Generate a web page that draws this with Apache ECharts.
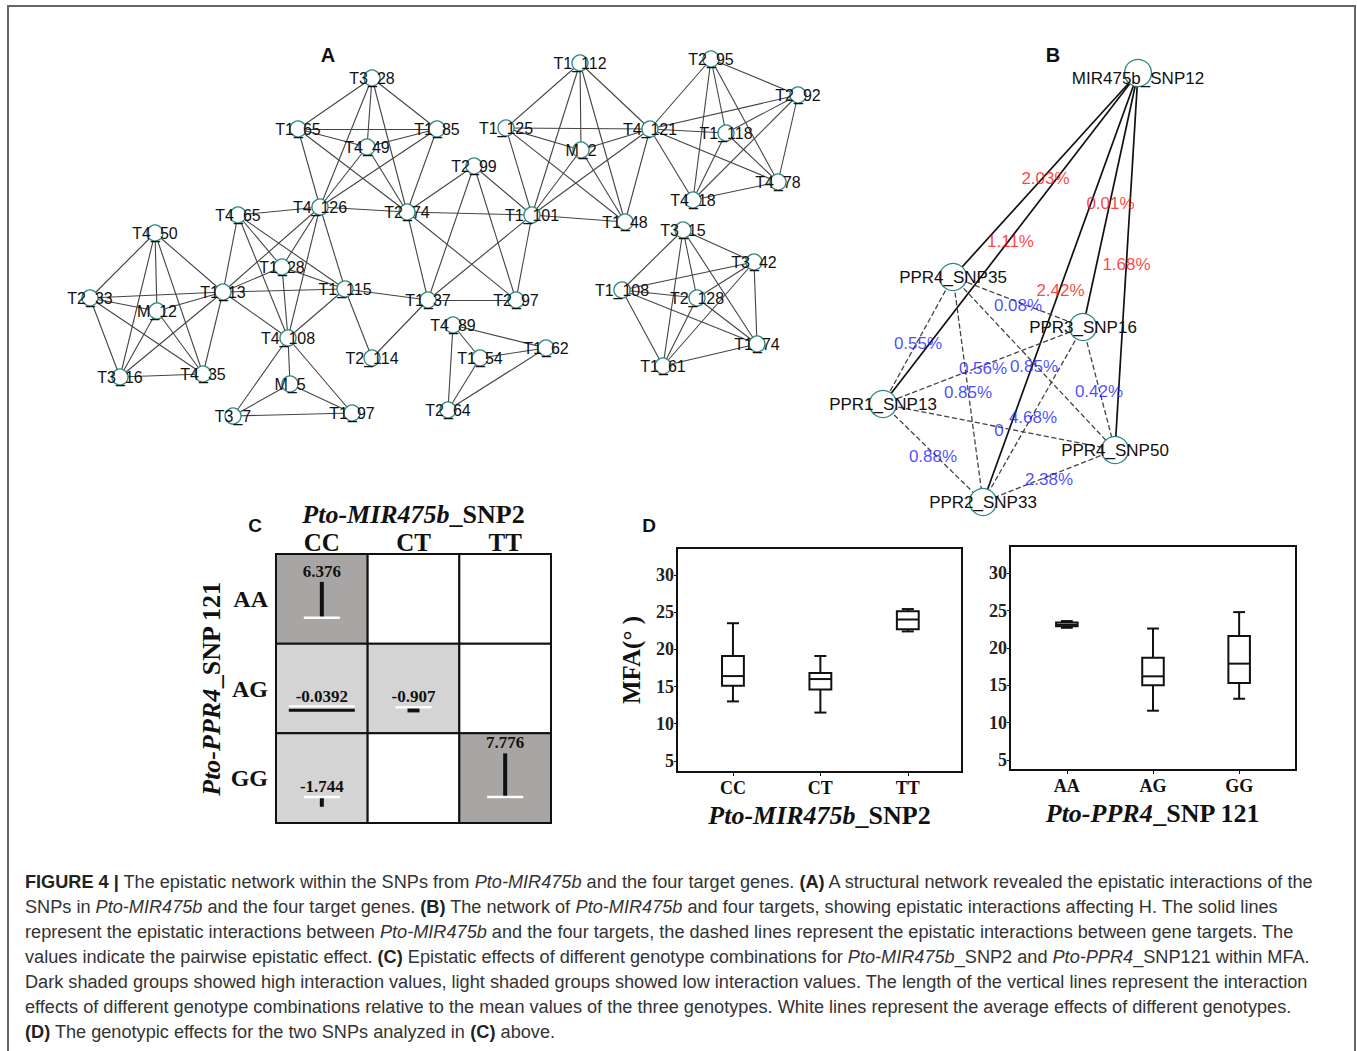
<!DOCTYPE html>
<html>
<head>
<meta charset="utf-8">
<script src="https://cdn.jsdelivr.net/npm/echarts@6/dist/echarts.min.js"></script>
<style>
html, body { margin: 0; padding: 0; background: #fff; }
#container { width: 1357px; height: 1051px; }
</style>
</head>
<body>
<div id="container"></div>
<script>
// ---- panel A: structural epistatic network (node positions)
var netA_nodes = [
    ['T3_28', 372, 78], ['T1_65', 298, 129], ['T1_85', 437, 129], ['T4_49', 367, 147],
    ['T4_126', 320, 207], ['T2_74', 407, 212], ['T4_65', 238, 215], ['T4_50', 155, 233],
    ['T1_28', 282, 267], ['T1_13', 223, 292], ['T1_115', 345, 289], ['T2_33', 90, 298],
    ['M_12', 157, 311], ['T4_108', 288, 338], ['T2_114', 372, 358], ['T3_16', 120, 377],
    ['T4_35', 203, 374], ['M_5', 290, 384], ['T3_7', 233, 416], ['T1_97', 352, 413],
    ['T1_112', 580, 63], ['T2_95', 711, 59], ['T2_92', 798, 95], ['T1_125', 506, 128],
    ['T4_121', 650, 129], ['T1_118', 726, 133], ['M_2', 581, 150], ['T2_99', 474, 166],
    ['T4_78', 778, 182], ['T4_18', 693, 200], ['T1_101', 532, 215], ['T1_48', 625, 222],
    ['T3_15', 683, 230], ['T3_42', 754, 262], ['T1_108', 622, 290], ['T2_128', 697, 298],
    ['T1_37', 428, 300], ['T2_97', 516, 300], ['T4_89', 453, 325], ['T1_62', 546, 348],
    ['T1_54', 480, 358], ['T1_74', 757, 344], ['T1_61', 663, 366], ['T2_64', 448, 410]
];
// every group below is fully connected in the figure
var netA_groups = [
    ['T3_28', 'T1_65', 'T1_85', 'T4_49', 'T4_126', 'T2_74'],
    ['T4_50', 'T2_33', 'M_12', 'T1_13', 'T3_16', 'T4_35'],
    ['T4_65', 'T4_126', 'T1_13', 'T1_28', 'T1_115', 'T4_108'],
    ['T2_74', 'T2_99', 'T1_37', 'T2_97', 'T1_101'],
    ['T1_112', 'T1_125', 'M_2', 'T4_121', 'T1_101', 'T1_48'],
    ['T4_121', 'T2_95', 'T2_92', 'T1_118', 'T4_78', 'T4_18'],
    ['T3_15', 'T3_42', 'T1_108', 'T2_128', 'T1_74', 'T1_61'],
    ['T4_89', 'T1_62', 'T1_54', 'T2_64'],
    ['T4_108', 'M_5', 'T3_7', 'T1_97'],
    ['T1_115', 'T1_37', 'T2_114']
];

// ---- panel B: MIR475b and four targets
var netB_nodes = [
    ['MIR475b_SNP12', 1138, 73], ['PPR4_SNP35', 953, 277], ['PPR3_SNP16', 1083, 327],
    ['PPR1_SNP13', 883, 404], ['PPR4_SNP50', 1115, 450], ['PPR2_SNP33', 983, 502]
];
var netB_solid = [
    ['MIR475b_SNP12', 'PPR4_SNP35', '2.03%'],
    ['MIR475b_SNP12', 'PPR1_SNP13', '1.11%'],
    ['MIR475b_SNP12', 'PPR3_SNP16', '0.01%'],
    ['MIR475b_SNP12', 'PPR4_SNP50', '1.68%'],
    ['MIR475b_SNP12', 'PPR2_SNP33', '2.42%']
];
var netB_dashed = [
    ['PPR4_SNP35', 'PPR1_SNP13', '0.55%'],
    ['PPR4_SNP35', 'PPR3_SNP16', '0.08%'],
    ['PPR4_SNP35', 'PPR4_SNP50', '0.85%'],
    ['PPR4_SNP35', 'PPR2_SNP33', '0.85%'],
    ['PPR1_SNP13', 'PPR3_SNP16', '0.56%'],
    ['PPR3_SNP16', 'PPR4_SNP50', '0.42%'],
    ['PPR3_SNP16', 'PPR2_SNP33', '4.68%'],
    ['PPR1_SNP13', 'PPR4_SNP50', '0'],
    ['PPR1_SNP13', 'PPR2_SNP33', '0.88%'],
    ['PPR4_SNP50', 'PPR2_SNP33', '2.38%']
];

// ---- panel C: genotype combinations
var cCols = ['CC', 'CT', 'TT'];
var cRows = ['AA', 'AG', 'GG'];
var cShade = [['CC', 'AA', 'high'], ['CC', 'AG', 'low'], ['CT', 'AG', 'low'], ['CC', 'GG', 'low'], ['TT', 'GG', 'high']];
var cEffect = [['CC', 'AA', 6.376], ['CC', 'AG', -0.0392], ['CT', 'AG', -0.907], ['CC', 'GG', -1.744], ['TT', 'GG', 7.776]];

// ---- panel D: MFA boxplots [min, q1, median, q3, max]
var snp2Groups = ['CC', 'CT', 'TT'];
var snp2Box = [[13.0, 15.1, 16.4, 19.1, 23.5], [11.5, 14.6, 16.0, 16.8, 19.1], [22.4, 22.7, 24.0, 25.1, 25.4]];
var snp121Groups = ['AA', 'AG', 'GG'];
var snp121Box = [[22.7, 22.9, 23.1, 23.4, 23.6], [11.6, 15.0, 16.2, 18.7, 22.6], [13.2, 15.3, 17.9, 21.6, 24.8]];
var mfaTicks = [5, 10, 15, 20, 25, 30];

// ---- caption
var captionLines = [
    '{b|FIGURE 4 |} The epistatic network within the SNPs from {i|Pto-MIR475b} and the four target genes. {b|(A)} A structural network revealed the epistatic interactions of the',
    'SNPs in {i|Pto-MIR475b} and the four target genes. {b|(B)} The network of {i|Pto-MIR475b} and four targets, showing epistatic interactions affecting H. The solid lines',
    'represent the epistatic interactions between {i|Pto-MIR475b} and the four targets, the dashed lines represent the epistatic interactions between gene targets. The',
    'values indicate the pairwise epistatic effect. {b|(C)} Epistatic effects of different genotype combinations for {i|Pto-MIR475b}_SNP2 and {i|Pto-PPR4}_SNP121 within MFA.',
    'Dark shaded groups showed high interaction values, light shaded groups showed low interaction values. The length of the vertical lines represent the interaction',
    'effects of different genotype combinations relative to the mean values of the three genotypes. White lines represent the average effects of different genotypes.',
    '{b|(D)} The genotypic effects for the two SNPs analyzed in {b|(C)} above.'
];

var serif = 'Liberation Serif';
var sans = 'Liberation Sans';
var red = '#ff1010';
var blue = '#1c1cff';
var capSize = 18.15;

let chart = echarts.init(document.getElementById('container'), null, {renderer: 'svg'});

function nameRich(size) {
    return {
        i: {fontFamily: serif, fontStyle: 'italic', fontWeight: 'bold', fontSize: size, color: '#111'},
        n: {fontFamily: serif, fontWeight: 'bold', fontSize: size, color: '#111'}
    };
}

let linksA = [];
netA_groups.forEach(g => {
    for (let i = 0; i < g.length; i++) {
        for (let j = i + 1; j < g.length; j++) {
            linksA.push({source: g[i], target: g[j]});
        }
    }
});

let posB = {};
netB_nodes.forEach(n => { posB[n[0]] = [n[1], n[2]]; });
let linksB = [];
let edgeLabelsB = [];
netB_solid.forEach(l => {
    linksB.push({source: l[0], target: l[1], lineStyle: {color: '#111', width: 1.7, type: 'solid'}});
    edgeLabelsB.push({name: l[2], value: [(posB[l[0]][0] + posB[l[1]][0]) / 2, (posB[l[0]][1] + posB[l[1]][1]) / 2], label: {color: red}});
});
netB_dashed.forEach(l => {
    linksB.push({source: l[0], target: l[1], lineStyle: {color: '#444', width: 1.3, type: 'dashed'}});
    edgeLabelsB.push({name: l[2], value: [(posB[l[0]][0] + posB[l[1]][0]) / 2, (posB[l[0]][1] + posB[l[1]][1]) / 2], label: {color: blue}});
});

let cellData = [];
cRows.forEach((r, ri) => {
    cCols.forEach((c, ci) => {
        let shade = 'none';
        cShade.forEach(s => { if (s[0] == c && s[1] == r) shade = s[2]; });
        cellData.push({value: [ci, ri], shade: shade});
    });
});
let shadeColor = {high: '#a8a6a4', low: '#d4d4d4', none: '#ffffff'};

function boxData(box) {
    return box.map((b, i) => [i + 1].concat(b));
}

function renderBox(params, api) {
    let x = api.value(0);
    let p = [1, 2, 3, 4, 5].map(i => api.coord([x, api.value(i)]));
    let bw = api.size([0.25, 0])[0];
    let cw = bw * 0.55;
    let cx = p[0][0];
    let st = {stroke: '#111', lineWidth: 2, fill: 'none'};
    return {
        type: 'group',
        children: [
            {type: 'line', shape: {x1: cx, y1: p[0][1], x2: cx, y2: p[1][1]}, style: st},
            {type: 'line', shape: {x1: cx, y1: p[3][1], x2: cx, y2: p[4][1]}, style: st},
            {type: 'line', shape: {x1: cx - cw / 2, y1: p[0][1], x2: cx + cw / 2, y2: p[0][1]}, style: st},
            {type: 'line', shape: {x1: cx - cw / 2, y1: p[4][1], x2: cx + cw / 2, y2: p[4][1]}, style: st},
            {type: 'rect', shape: {x: cx - bw / 2, y: p[3][1], width: bw, height: p[1][1] - p[3][1]}, style: {stroke: '#111', lineWidth: 2, fill: '#fff'}},
            {type: 'line', shape: {x1: cx - bw / 2, y1: p[2][1], x2: cx + bw / 2, y2: p[2][1]}, style: st}
        ]
    };
}

function boxXAxis(grid, groups, min, max, name) {
    return {
        gridIndex: grid, type: 'value', min: min, max: max,
        splitLine: {show: false},
        axisLine: {show: false},
        axisTick: {show: true, customValues: [1, 2, 3], length: 4, lineStyle: {color: '#111'}},
        axisLabel: {
            customValues: [1, 2, 3],
            formatter: v => (Math.abs(v - Math.round(v)) < 1e-6 ? (groups[Math.round(v) - 1] || '') : ''),
            fontFamily: serif, fontWeight: 'bold', fontSize: 18, color: '#111', margin: 7
        },
        name: name, nameLocation: 'middle', nameGap: 30,
        nameTextStyle: {rich: nameRich(26)}
    };
}

function boxYAxis(grid, min, max) {
    return {
        gridIndex: grid, type: 'value', min: min, max: max, splitNumber: 6,
        splitLine: {show: false},
        axisLine: {show: false},
        axisTick: {show: true, customValues: mfaTicks, length: 3, lineStyle: {color: '#111'}},
        axisLabel: {
            customValues: mfaTicks,
            formatter: v => (v % 5 === 0 ? String(v) : ''),
            fontFamily: serif, fontWeight: 'bold', fontSize: 18, color: '#222', margin: 3
        }
    };
}

let graphic = [
    {type: 'rect', shape: {x: 8, y: 6, width: 1347, height: 1070}, style: {fill: 'none', stroke: '#666', lineWidth: 2}, silent: true},
    {type: 'text', x: 328, y: 55, style: {text: 'A', font: 'bold 20px "Liberation Sans"', fill: '#111', align: 'center', verticalAlign: 'middle'}},
    {type: 'text', x: 1053, y: 55, style: {text: 'B', font: 'bold 20px "Liberation Sans"', fill: '#111', align: 'center', verticalAlign: 'middle'}},
    {type: 'text', x: 255, y: 525, style: {text: 'C', font: 'bold 19px "Liberation Sans"', fill: '#111', align: 'center', verticalAlign: 'middle'}},
    {type: 'text', x: 649, y: 525, style: {text: 'D', font: 'bold 19px "Liberation Sans"', fill: '#111', align: 'center', verticalAlign: 'middle'}}
];
captionLines.forEach((line, i) => {
    graphic.push({
        type: 'text', x: 25, y: 882 + 25 * i,
        style: {
            text: line,
            fontFamily: sans, fontSize: capSize, fill: '#333',
            verticalAlign: 'middle',
            rich: {
                b: {fontFamily: sans, fontSize: capSize, fontWeight: 'bold', fill: '#222'},
                i: {fontFamily: sans, fontSize: capSize, fontStyle: 'italic', fill: '#333'}
            }
        }
    });
});

var option = {
    animation: false,
    backgroundColor: '#fff',
    grid: [
        {left: 0, top: 0, width: 1357, height: 1051},
        {left: 276, top: 554, width: 275, height: 269},
        {left: 677, top: 548, width: 285, height: 224, show: true, borderColor: '#111', borderWidth: 2},
        {left: 1010, top: 546, width: 286, height: 224, show: true, borderColor: '#111', borderWidth: 2}
    ],
    xAxis: [
        {gridIndex: 0, type: 'value', min: 0, max: 1357, show: false},
        {
            gridIndex: 1, type: 'category', position: 'top', data: cCols,
            axisLine: {show: false}, axisTick: {show: false},
            axisLabel: {fontFamily: serif, fontWeight: 'bold', fontSize: 25, color: '#111', margin: -1},
            name: '{i|Pto-MIR475b}{n|_SNP2}', nameLocation: 'middle', nameGap: 27,
            nameTextStyle: {rich: nameRich(26)}
        },
        boxXAxis(2, snp2Groups, 0.36, 3.62, '{i|Pto-MIR475b}{n|_SNP2}'),
        boxXAxis(3, snp121Groups, 0.34, 3.66, '{i|Pto-PPR4}{n|_SNP 121}')
    ],
    yAxis: [
        {gridIndex: 0, type: 'value', min: 0, max: 1051, inverse: true, show: false},
        {
            gridIndex: 1, type: 'category', inverse: true, data: cRows,
            axisLine: {show: false}, axisTick: {show: false},
            axisLabel: {fontFamily: serif, fontWeight: 'bold', fontSize: 24, color: '#111', margin: 8, padding: [12, 0, 0, 0]},
            name: '{i|Pto-PPR4}{n|_SNP 121}', nameLocation: 'middle', nameGap: 52, nameRotate: 90,
            nameTextStyle: {rich: nameRich(26)}
        },
        Object.assign(boxYAxis(2, 3.52, 33.6), {
            name: 'MFA(° )', nameLocation: 'middle', nameGap: 33, nameRotate: 90,
            nameTextStyle: {fontFamily: serif, fontWeight: 'bold', fontSize: 25, color: '#111'}
        }),
        boxYAxis(3, 3.66, 33.65)
    ],
    graphic: graphic,
    series: [
        {
            type: 'graph', coordinateSystem: 'cartesian2d', xAxisIndex: 0, yAxisIndex: 0,
            silent: true, symbol: 'circle', symbolSize: 16,
            itemStyle: {color: '#fff', borderColor: '#2f8682', borderWidth: 1.3},
            label: {show: true, position: 'inside', color: '#111', fontFamily: sans, fontSize: 16},
            lineStyle: {color: '#444', width: 1.1, opacity: 1, curveness: 0},
            data: netA_nodes.map(n => ({name: n[0], value: [n[1], n[2]]})),
            links: linksA
        },
        {
            type: 'graph', coordinateSystem: 'cartesian2d', xAxisIndex: 0, yAxisIndex: 0,
            silent: true, symbol: 'circle', symbolSize: 27,
            itemStyle: {color: '#fff', borderColor: '#2f8682', borderWidth: 1.3},
            label: {show: true, position: 'inside', color: '#111', fontFamily: sans, fontSize: 17},
            lineStyle: {opacity: 1, curveness: 0},
            data: netB_nodes.map(n => ({name: n[0], value: [n[1], n[2]], label: n[0] == 'MIR475b_SNP12' ? {offset: [0, 5]} : {}})),
            links: linksB
        },
        {
            type: 'scatter', xAxisIndex: 0, yAxisIndex: 0, silent: true, symbolSize: 0, z: 5,
            label: {show: true, position: 'inside', formatter: p => p.name, fontFamily: sans, fontSize: 17, offset: [0, 3]},
            data: edgeLabelsB
        },
        {
            type: 'custom', xAxisIndex: 1, yAxisIndex: 1, silent: true,
            data: cellData,
            renderItem: (params, api) => {
                let c = api.coord([api.value(0), api.value(1)]);
                let s = api.size([1, 1]);
                return {
                    type: 'rect',
                    shape: {x: c[0] - s[0] / 2, y: c[1] - s[1] / 2, width: s[0], height: s[1]},
                    style: {fill: shadeColor[cellData[params.dataIndex].shade], stroke: '#111', lineWidth: 2}
                };
            }
        },
        {
            type: 'custom', xAxisIndex: 1, yAxisIndex: 1, silent: true, z: 3,
            data: cEffect.map(e => [cCols.indexOf(e[0]), cRows.indexOf(e[1]), e[2]]),
            renderItem: (params, api) => {
                let val = cEffect[params.dataIndex][2];
                let c = api.coord([api.value(0), api.value(1)]);
                let s = api.size([1, 1]);
                let base = c[1] + s[1] * 0.21;
                let len = val / 16 * s[1];
                let kids = [];
                let top = Math.min(base, base - len);
                if (Math.abs(len) < 2) {
                    // near-zero effect drawn as a flat bar
                    let w = s[0] * 0.72;
                    kids.push({type: 'rect', shape: {x: c[0] - w / 2, y: base + 1.5, width: w, height: 3}, style: {fill: '#111'}});
                    kids.push({type: 'line', shape: {x1: c[0] - w / 2, y1: base - 1, x2: c[0] + w / 2, y2: base - 1}, style: {stroke: '#fff', lineWidth: 2}});
                } else {
                    let bw = Math.abs(len) < 6 ? 12 : 4;
                    kids.push({type: 'rect', shape: {x: c[0] - bw / 2, y: top, width: bw, height: Math.abs(len)}, style: {fill: '#111'}});
                    kids.push({type: 'line', shape: {x1: c[0] - 18, y1: base, x2: c[0] + 18, y2: base}, style: {stroke: '#fff', lineWidth: 2.5}});
                }
                kids.push({
                    type: 'text', x: c[0], y: top - 2,
                    style: {text: String(val), font: 'bold 17px "Liberation Serif"', fill: '#111', align: 'center', verticalAlign: 'bottom'}
                });
                return {type: 'group', children: kids};
            }
        },
        {
            type: 'custom', xAxisIndex: 2, yAxisIndex: 2, silent: true,
            encode: {x: 0, y: [1, 2, 3, 4, 5]},
            data: boxData(snp2Box),
            renderItem: renderBox
        },
        {
            type: 'custom', xAxisIndex: 3, yAxisIndex: 3, silent: true,
            encode: {x: 0, y: [1, 2, 3, 4, 5]},
            data: boxData(snp121Box),
            renderItem: renderBox
        }
    ]
};

chart.setOption(option);
</script>
</body>
</html>
